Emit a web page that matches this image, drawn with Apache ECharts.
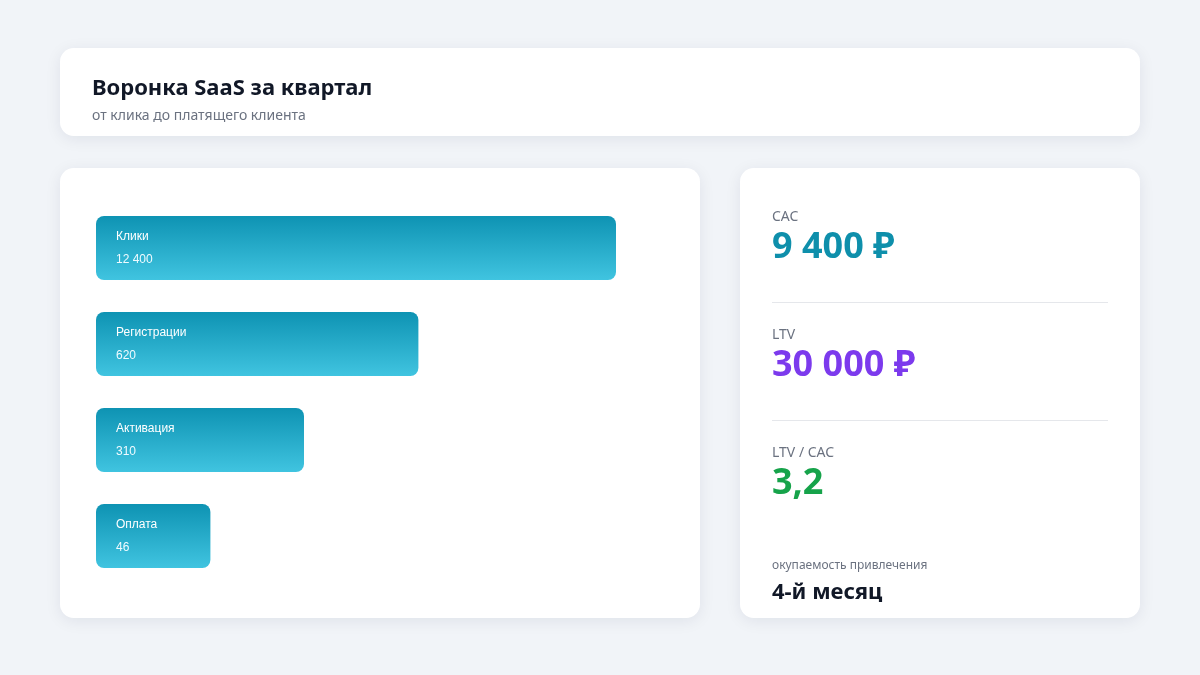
<!DOCTYPE html><html><head><meta charset="utf-8"><script src="https://cdn.jsdelivr.net/npm/echarts@6/dist/echarts.min.js"></script>
<style>html,body{margin:0;background:#f1f4f8}#c{width:1200px;height:675px}</style></head><body><div id="c"></div><script>
const stages=['Клики','Регистрации','Активация','Оплата'];
const counts=['12 400','620','310','46'];
const barShare=[100,62,40,22];
const kpiLabels=['CAC','LTV','LTV / CAC'];
const kpiValues=['9 400 ₽','30 000 ₽','3,2'];
const kpiColors=['#0e8fab','#7c3aed','#16a34a'];
const F='"Noto Sans", "Open Sans", sans-serif';
const ch=echarts.init(document.getElementById('c'));
const card=(x,y,w,h)=>({type:'rect',z:0,shape:{x,y,width:w,height:h,r:14},style:{fill:'#fff',shadowBlur:16,shadowColor:'rgba(15,30,60,0.08)',shadowOffsetY:3}});
const g=[card(60,48,1080,88),card(60,168,640,450),card(740,168,400,450),
{type:'text',z:2,style:{x:92,y:78,text:'Воронка SaaS за квартал',font:'bold 22px '+F,fill:'#111827'}},
{type:'text',z:2,style:{x:92,y:109,text:'от клика до платящего клиента',font:'14px '+F,fill:'#6b7280'}}];
kpiLabels.forEach((l,i)=>{const y=210+i*118;
g.push({type:'text',z:2,style:{x:772,y,text:l,font:'14px '+F,fill:'#6b7280'}});
g.push({type:'text',z:2,style:{x:772,y:y+20,text:kpiValues[i],font:'bold 36px '+F,fill:kpiColors[i]}});
if(i<2)g.push({type:'rect',z:2,shape:{x:772,y:y+92,width:336,height:1},style:{fill:'#e5e7eb'}});});
g.push({type:'text',z:2,style:{x:772,y:560,text:'окупаемость привлечения',font:'12px '+F,fill:'#6b7280'}});
g.push({type:'text',z:2,style:{x:772,y:582,text:'4-й месяц',font:'bold 22px '+F,fill:'#111827'}});
ch.setOption({animation:false,graphic:g,
grid:{left:96,top:200,width:520,height:384},
xAxis:{type:'value',min:0,max:100,show:false},
yAxis:{type:'category',inverse:true,data:stages,show:false},
series:[{type:'bar',z:3,barWidth:64,data:barShare.map((v,i)=>({value:v,cnt:counts[i]})),
itemStyle:{borderRadius:8,color:{type:'linear',x:0,y:0,x2:0,y2:1,colorStops:[{offset:0,color:'#0e93b3'},{offset:1,color:'#40c4e0'}]}},
label:{show:true,position:'insideLeft',distance:20,formatter:p=>'{a|'+p.name+'}\n{b|'+counts[p.dataIndex]+'}',
rich:{a:{font:'bold 17px '+F,color:'#fff',lineHeight:24},b:{font:'15px '+F,color:'#f0fbff',lineHeight:22}}}}]});
</script></body></html>
